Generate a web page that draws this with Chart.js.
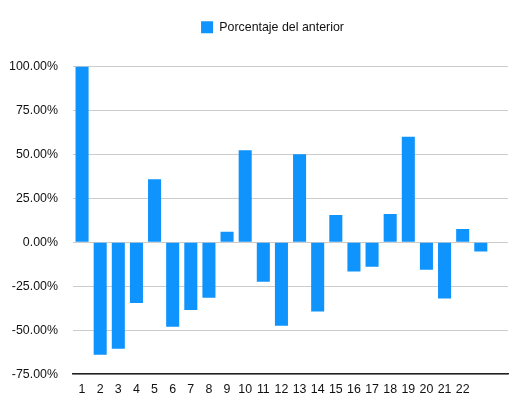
<!DOCTYPE html>
<html>
<head>
<meta charset="utf-8">
<script src="https://cdn.jsdelivr.net/npm/chart.js@4.4.0/dist/chart.umd.min.js"></script>
<style>
html,body{margin:0;padding:0;background:#fff;}
#wrap{width:531px;height:416px;position:relative;}
</style>
</head>
<body>
<div id="wrap"><canvas id="c" width="531" height="416"></canvas></div>
<script>
const categories = ["1","2","3","4","5","6","7","8","9","10","11","12","13","14","15","16","17","18","19","20","21","22","",""];
const seriesName = "Porcentaje del anterior";
const values = [100, -64, -60.6, -34.5, 35.8, -48, -38.5, -31.6, 5.9, 52.3, -22.5, -47.5, 50, -39.4, 15.5, -16.7, -13.9, 16.1, 60, -15.6, -32, 7.6, -5.3, null];
const yTicks = [-75, -50, -25, 0, 25, 50, 75, 100];

Chart.defaults.font.family = "'Liberation Sans', Arial, Helvetica, sans-serif";
Chart.defaults.font.size = 12.4;
Chart.defaults.color = '#111';

const legendGap = {
  id: 'legendGap',
  beforeInit(chart) {
    const origFit = chart.legend.fit;
    chart.legend.fit = function () {
      origFit.bind(chart.legend)();
      this.height += 23;
    };
  },
  afterLayout(chart) {
    chart.legend.left += 14;
    chart.legend.right += 14;
  }
};

new Chart(document.getElementById('c'), {
  type: 'bar',
  data: {
    labels: categories,
    datasets: [{
      label: seriesName,
      data: values,
      backgroundColor: '#0F93FD',
      borderWidth: 0,
      barPercentage: 0.72,
      categoryPercentage: 1.0
    }]
  },
  plugins: [legendGap],
  options: {
    responsive: false,
    animation: false,
    layout: { padding: { left: 9, right: 23, top: 13, bottom: 11 } },
    plugins: {
      legend: {
        position: 'top',
        labels: { boxWidth: 12, boxHeight: 12, padding: 8, color: '#111' }
      },
      tooltip: { enabled: false }
    },
    scales: {
      x: {
        grid: { display: false, drawTicks: false },
        border: { display: true, color: '#222', width: 1.5 },
        ticks: { padding: 8, maxRotation: 0, autoSkip: false, color: '#111' }
      },
      y: {
        min: -75, max: 100,
        afterBuildTicks: (axis) => { axis.ticks = yTicks.map(v => ({ value: v })); },
        afterFit: (axis) => { axis.width = 64; },
        grid: { color: '#cccccc', lineWidth: 1, drawTicks: false },
        border: { display: false },
        ticks: { padding: 15, color: '#111', callback: (v) => v.toFixed(2) + '%' }
      }
    }
  }
});
</script>
</body>
</html>
